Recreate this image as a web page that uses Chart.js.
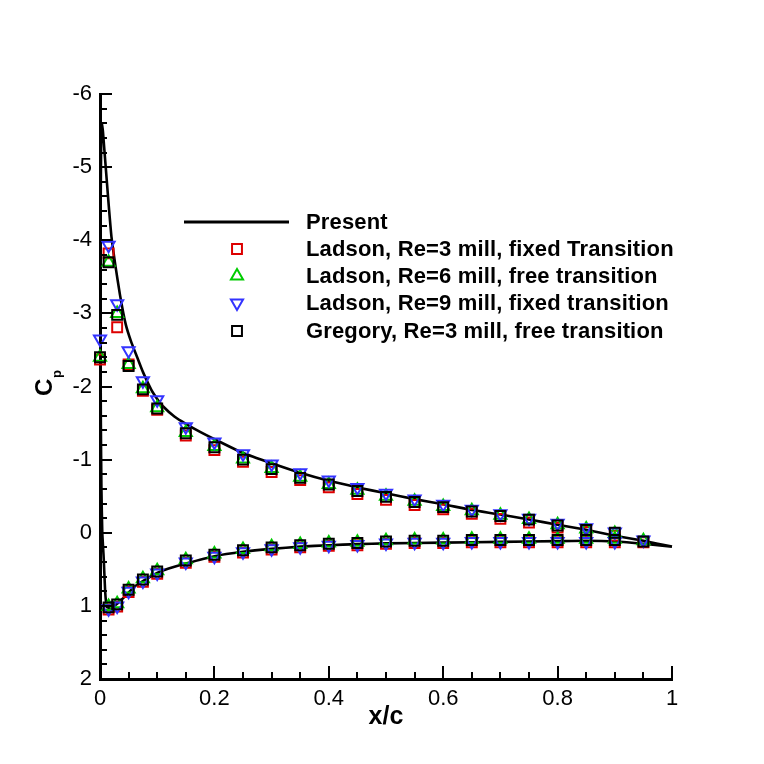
<!DOCTYPE html>
<html>
<head>
<meta charset="utf-8">
<script src="https://cdn.jsdelivr.net/npm/chart.js@4.4.1/dist/chart.umd.min.js"></script>
<style>
  html, body { margin: 0; padding: 0; background: #fff; }
  #wrap { width: 764px; height: 764px; }
</style>
</head>
<body>
<div id="wrap"><canvas id="chart" width="764" height="764"></canvas></div>
<script>
// present computation: one closed path, lower TE -> stagnation -> LE -> upper TE
const presentX = [1.0, 0.95, 0.9, 0.85, 0.8, 0.7, 0.6, 0.5, 0.45, 0.4, 0.35, 0.3, 0.25, 0.2, 0.15, 0.12, 0.1, 0.075, 0.06, 0.045, 0.03, 0.02, 0.012,
  0.009, 0.0065, 0.004, 0.0025, 0.0015, 0.001, 0.001, 0.0012, 0.002, 0.003, 0.005, 0.007, 0.01, 0.015, 0.02, 0.027, 0.035, 0.045, 0.055,
  0.065, 0.075, 0.09, 0.1, 0.11, 0.13, 0.15, 0.175, 0.2, 0.25, 0.3, 0.35, 0.4, 0.45, 0.5, 0.55, 0.6, 0.65, 0.7, 0.75, 0.8, 0.85, 0.9, 0.95, 1.0];
const presentCp = [0.19, 0.15, 0.12, 0.11, 0.115, 0.125, 0.135, 0.145, 0.155, 0.17, 0.19, 0.22, 0.26, 0.32, 0.42, 0.49, 0.55, 0.66, 0.74, 0.86, 0.97, 1.02, 1.02,
  0.8, 0.35, 0.0, -0.6, -1.5, -2.5, -3.5, -4.5, -5.3, -5.6, -5.5, -5.3, -5.0, -4.5, -4.05, -3.65, -3.25, -2.85, -2.6,
  -2.4, -2.2, -1.95, -1.83, -1.73, -1.59, -1.49, -1.38, -1.28, -1.09, -0.95, -0.82, -0.71, -0.62, -0.54, -0.46, -0.39, -0.31, -0.25, -0.18, -0.11, -0.04, 0.04, 0.11, 0.19];

// experiments, upper surface
const upperX = [0, 0.015, 0.03, 0.05, 0.075, 0.1, 0.15, 0.2, 0.25, 0.3, 0.35, 0.4, 0.45, 0.5, 0.55, 0.6, 0.65, 0.7, 0.75, 0.8, 0.85, 0.9, 0.95];
const ladson3Upper  = [-2.37, -3.82, -2.81, -2.30, -1.94, -1.68, -1.33, -1.13, -0.97, -0.83, -0.72, -0.62, -0.53, -0.45, -0.38, -0.32, -0.26, -0.19, -0.14, -0.07, -0.01, 0.04, 0.13];
const ladson6Upper  = [-2.40, -3.70, -3.00, -2.30, -1.97, -1.71, -1.37, -1.18, -1.01, -0.88, -0.76, -0.66, -0.58, -0.50, -0.43, -0.36, -0.30, -0.24, -0.18, -0.11, -0.05, 0.01, 0.11];
const ladson9Upper  = [-2.65, -3.93, -3.13, -2.49, -2.08, -1.82, -1.45, -1.24, -1.08, -0.94, -0.82, -0.72, -0.62, -0.54, -0.46, -0.39, -0.32, -0.26, -0.20, -0.13, -0.07, -0.01, 0.10];
const gregoryUpper  = [-2.40, -3.70, -2.98, -2.28, -1.96, -1.70, -1.36, -1.17, -1.00, -0.87, -0.75, -0.66, -0.57, -0.49, -0.42, -0.35, -0.29, -0.23, -0.18, -0.10, -0.04, 0.00, 0.12];

// experiments, lower surface
const lowerX = [0.015, 0.03, 0.05, 0.075, 0.1, 0.15, 0.2, 0.25, 0.3, 0.35, 0.4, 0.45, 0.5, 0.55, 0.6, 0.65, 0.7, 0.75, 0.8, 0.85, 0.9];
const ladson3Lower  = [1.05, 1.01, 0.81, 0.67, 0.56, 0.41, 0.33, 0.27, 0.23, 0.20, 0.18, 0.17, 0.15, 0.14, 0.14, 0.13, 0.13, 0.13, 0.13, 0.13, 0.13];
const ladson6Lower  = [1.01, 0.97, 0.77, 0.63, 0.52, 0.37, 0.29, 0.23, 0.19, 0.16, 0.14, 0.13, 0.11, 0.10, 0.10, 0.09, 0.09, 0.09, 0.09, 0.09, 0.09];
const ladson9Lower  = [1.04, 1.00, 0.80, 0.66, 0.55, 0.40, 0.32, 0.26, 0.22, 0.19, 0.17, 0.16, 0.14, 0.13, 0.13, 0.12, 0.12, 0.12, 0.12, 0.12, 0.12];
const gregoryLower  = [1.02, 0.98, 0.78, 0.64, 0.53, 0.38, 0.30, 0.24, 0.20, 0.17, 0.15, 0.14, 0.12, 0.11, 0.11, 0.10, 0.10, 0.10, 0.10, 0.10, 0.10];

const legendLabels = ['Present', 'Ladson, Re=3 mill, fixed Transition', 'Ladson, Re=6 mill, free transition',
  'Ladson, Re=9 mill, fixed transition', 'Gregory, Re=3 mill, free transition'];

const RED = '#dd0000', GREEN = '#00cc00', BLUE = '#3333ff', BLACK = '#000000';
const FONT = '"Liberation Sans", Arial, sans-serif';

function pts(xs, ys) {
  return xs.map((x, i) => ({ x: x, y: ys[i] }));
}

function markerSet(label, xs, upper, lower, color, style, rot, order) {
  return {
    label: label,
    data: pts(xs, upper).concat(pts(lowerX, lower)),
    showLine: false,
    pointStyle: style,
    rotation: rot,
    pointRadius: 7,
    pointHoverRadius: 7,
    pointBorderWidth: 2,
    borderColor: color,
    backgroundColor: 'rgba(0,0,0,0)',
    clip: false,
    order: order
  };
}

const extras = {
  id: 'extras',
  afterDraw(chart) {
    const ctx = chart.ctx;
    const xs = chart.scales.x, ys = chart.scales.y;
    ctx.save();
    // inward ticks, major and minor
    ctx.strokeStyle = '#000';
    ctx.lineWidth = 2;
    ctx.beginPath();
    for (let i = 0; i <= 20; i++) {
      const px = Math.round(xs.getPixelForValue(i * 0.05));
      const len = i % 4 === 0 ? 13 : 7;
      ctx.moveTo(px, ys.bottom);
      ctx.lineTo(px, ys.bottom - len);
    }
    for (let i = 0; i <= 40; i++) {
      const py = Math.round(ys.getPixelForValue(-6 + i * 0.2));
      const len = i % 5 === 0 ? 12 : 7;
      ctx.moveTo(xs.left, py);
      ctx.lineTo(xs.left + len, py);
    }
    ctx.stroke();

    // axis titles
    ctx.fillStyle = '#000';
    ctx.font = 'bold 25px ' + FONT;
    ctx.textAlign = 'center';
    ctx.textBaseline = 'middle';
    ctx.fillText('x/c', (xs.left + xs.right) / 2, 717);

    ctx.save();
    ctx.translate(52, 396);
    ctx.rotate(-Math.PI / 2);
    ctx.textAlign = 'left';
    ctx.textBaseline = 'alphabetic';
    ctx.font = 'bold 24px ' + FONT;
    ctx.fillText('C', 0, 0);
    ctx.font = 'bold 13px ' + FONT;
    ctx.fillText('p', 18, 9);
    ctx.restore();

    // legend
    const rowY = [222, 249, 276, 303, 331];
    const textX = 306;
    ctx.lineWidth = 3;
    ctx.beginPath();
    ctx.moveTo(184, rowY[0]);
    ctx.lineTo(289, rowY[0]);
    ctx.stroke();
    const marks = chart.data.datasets.slice(1);
    marks.forEach((ds, i) => {
      ctx.strokeStyle = ds.borderColor;
      ctx.fillStyle = 'rgba(0,0,0,0)';
      ctx.lineWidth = 2;
      Chart.helpers.drawPoint(ctx, {
        pointStyle: ds.pointStyle, rotation: ds.rotation, radius: 7, borderWidth: 2
      }, 237, rowY[i + 1]);
    });
    ctx.fillStyle = '#000';
    ctx.font = 'bold 22px ' + FONT;
    ctx.letterSpacing = '0.15px';
    ctx.textAlign = 'left';
    ctx.textBaseline = 'middle';
    legendLabels.forEach((t, i) => {
      ctx.fillText(t, textX, rowY[i] + 1);
    });
    ctx.restore();
  }
};

new Chart(document.getElementById('chart'), {
  type: 'scatter',
  data: {
    datasets: [
      {
        label: legendLabels[0],
        data: pts(presentX, presentCp),
        showLine: true,
        borderColor: BLACK,
        borderWidth: 2.6,
        pointRadius: 0,
        tension: 0.15,
        clip: false,
        order: 10
      },
      markerSet(legendLabels[1], upperX, ladson3Upper, ladson3Lower, RED, 'rect', 0, 4),
      markerSet(legendLabels[2], upperX, ladson6Upper, ladson6Lower, GREEN, 'triangle', 0, 3),
      markerSet(legendLabels[3], upperX, ladson9Upper, ladson9Lower, BLUE, 'triangle', 180, 2),
      markerSet(legendLabels[4], upperX, gregoryUpper, gregoryLower, BLACK, 'rect', 0, 1)
    ]
  },
  options: {
    responsive: false,
    animation: false,
    events: [],
    layout: { padding: { left: 0, top: 94, right: 92, bottom: 0 } },
    plugins: { legend: { display: false }, tooltip: { enabled: false } },
    scales: {
      x: {
        type: 'linear',
        min: 0, max: 1,
        afterFit(s) { s.height = 85; },
        grid: { display: false, drawTicks: false },
        border: { display: true, color: '#000', width: 3 },
        ticks: {
          stepSize: 0.2, padding: 7, color: '#000',
          font: { family: FONT, size: 22 },
          maxRotation: 0,
          callback: v => String(Math.round(v * 10) / 10)
        }
      },
      y: {
        type: 'linear',
        min: -6, max: 2,
        reverse: true,
        afterFit(s) { s.width = 100; },
        grid: { display: false, drawTicks: false },
        border: { display: true, color: '#000', width: 3 },
        ticks: {
          stepSize: 1, padding: 8, color: '#000',
          font: { family: FONT, size: 22 }
        }
      }
    }
  },
  plugins: [extras]
});
</script>
</body>
</html>
